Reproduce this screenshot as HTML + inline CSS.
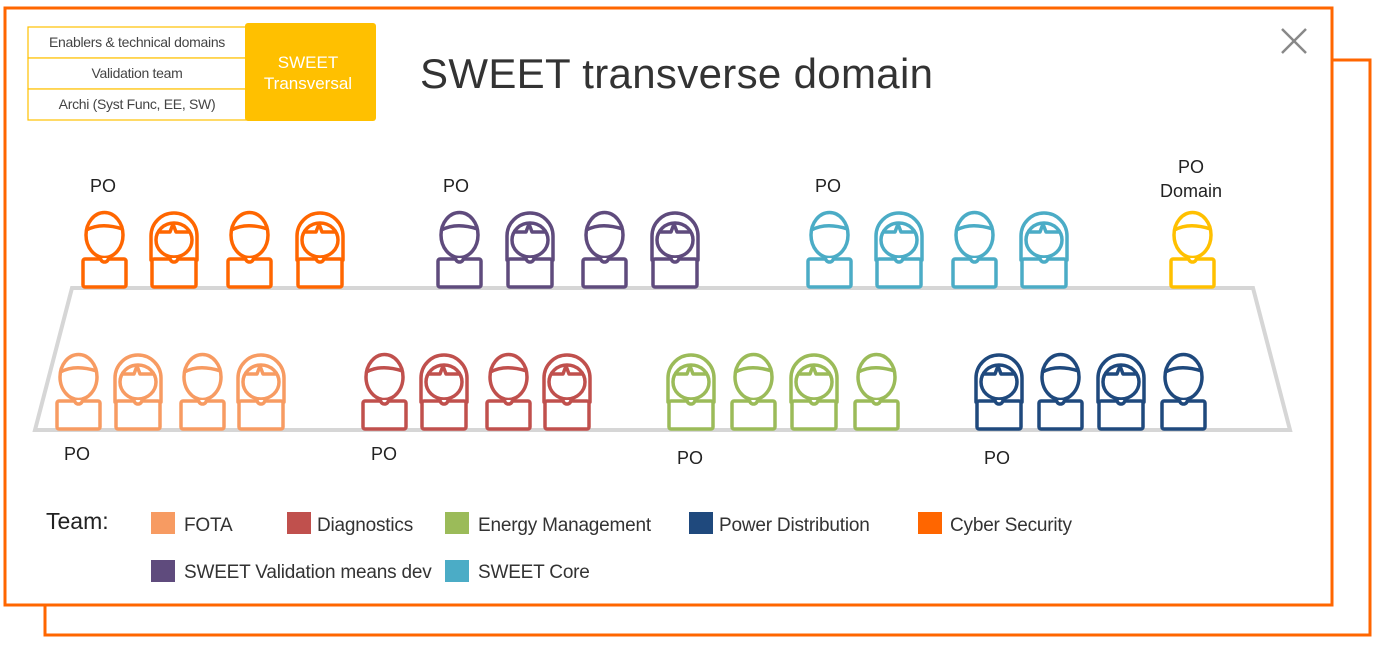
<!DOCTYPE html>
<html><head><style>
body{margin:0;background:#fff;width:1387px;height:645px;overflow:hidden;font-family:"Liberation Sans",sans-serif;}
</style></head><body>
<svg width="1387" height="645" xmlns="http://www.w3.org/2000/svg" font-family="Liberation Sans, sans-serif">
<defs>
<g id="m" fill="#fff" stroke-width="3.5" stroke-linejoin="round">
<rect x="2" y="49" width="43" height="28" rx="2"/>
<ellipse cx="23.5" cy="25" rx="18.5" ry="22.5"/>
<path d="M5.5,20 Q20,12 41.5,19" fill="none"/>
<path d="M19.5,48 a4,4 0 0 0 8,0" />
</g>
<g id="f" fill="#fff" stroke-width="3.5" stroke-linejoin="round">
<path d="M2,50 V26 A23,23 0 0 1 48,26 V50 Z"/>
<rect x="3" y="49" width="44" height="28" rx="2"/>
<ellipse cx="25" cy="30" rx="18" ry="17"/>
<path d="M8,22 H21 L24,14 L27,22 H42" fill="none"/>
<path d="M21,48 a4,4 0 0 0 8,0"/>
</g>
</defs>
<rect x="45" y="60" width="1325" height="575" fill="#fff" stroke="#ff6600" stroke-width="3"/>
<rect x="5" y="8" width="1327" height="597" fill="#fff" stroke="#ff6600" stroke-width="3"/>
<g stroke="#888" stroke-width="2.5"><line x1="1282" y1="29" x2="1306" y2="53"/><line x1="1306" y1="29" x2="1282" y2="53"/></g>
<g stroke="#ffc000" stroke-width="1.2" fill="#fff">
<rect x="28" y="27" width="220" height="31"/><rect x="28" y="58" width="220" height="31"/><rect x="28" y="89" width="220" height="31"/>
</g>
<g font-size="14" fill="#444" text-anchor="middle" letter-spacing="-0.3">
<text x="137" y="47">Enablers &amp; technical domains</text>
<text x="137" y="78">Validation team</text>
<text x="137" y="109">Archi (Syst Func, EE, SW)</text>
</g>
<rect x="245" y="23" width="131" height="98" rx="3" fill="#ffc000"/>
<text x="308" y="68" font-size="17" fill="#fff" text-anchor="middle">SWEET</text>
<text x="308" y="89" font-size="17" fill="#fff" text-anchor="middle">Transversal</text>
<text x="420" y="88" font-size="42" fill="#333" textLength="513">SWEET transverse domain</text>
<path d="M72,288 H1253 L1290,430 H35 Z" fill="none" stroke="#d6d6d6" stroke-width="4"/>
<g stroke="#ff6600"><use href="#m" x="81" y="210"/><use href="#f" x="149" y="210"/><use href="#m" x="226" y="210"/><use href="#f" x="295" y="210"/></g>
<g stroke="#5f4b7d"><use href="#m" x="436" y="210"/><use href="#f" x="505" y="210"/><use href="#m" x="581" y="210"/><use href="#f" x="650" y="210"/></g>
<g stroke="#4bacc6"><use href="#m" x="806" y="210"/><use href="#f" x="874" y="210"/><use href="#m" x="951" y="210"/><use href="#f" x="1019" y="210"/></g>
<g stroke="#ffc000"><use href="#m" x="1169" y="210"/></g>
<g stroke="#f79b62"><use href="#m" x="55" y="352"/><use href="#f" x="113" y="352"/><use href="#m" x="179" y="352"/><use href="#f" x="236" y="352"/></g>
<g stroke="#c0504d"><use href="#m" x="361" y="352"/><use href="#f" x="419" y="352"/><use href="#m" x="485" y="352"/><use href="#f" x="542" y="352"/></g>
<g stroke="#9bbb59"><use href="#f" x="666" y="352"/><use href="#m" x="730" y="352"/><use href="#f" x="789" y="352"/><use href="#m" x="853" y="352"/></g>
<g stroke="#1f497d"><use href="#f" x="974" y="352"/><use href="#m" x="1037" y="352"/><use href="#f" x="1096" y="352"/><use href="#m" x="1160" y="352"/></g>
<g font-size="18" fill="#222" text-anchor="middle">
<text x="103" y="192">PO</text><text x="456" y="192">PO</text><text x="828" y="192">PO</text>
<text x="1191" y="173">PO</text><text x="1191" y="197">Domain</text>
<text x="77" y="460">PO</text><text x="384" y="460">PO</text><text x="690" y="464">PO</text><text x="997" y="464">PO</text>
</g>
<text x="46" y="529" font-size="23" fill="#222">Team:</text>
<g font-size="19" fill="#333" letter-spacing="-0.2">
<rect x="151" y="512" width="24" height="22" fill="#f79b62"/><text x="184" y="531">FOTA</text>
<rect x="287" y="512" width="24" height="22" fill="#c0504d"/><text x="317" y="531">Diagnostics</text>
<rect x="445" y="512" width="24" height="22" fill="#9bbb59"/><text x="478" y="531">Energy Management</text>
<rect x="689" y="512" width="24" height="22" fill="#1f497d"/><text x="719" y="531">Power Distribution</text>
<rect x="918" y="512" width="24" height="22" fill="#ff6600"/><text x="950" y="531">Cyber Security</text>
<rect x="151" y="560" width="24" height="22" fill="#5f4b7d"/><text x="184" y="578">SWEET Validation means dev</text>
<rect x="445" y="560" width="24" height="22" fill="#4bacc6"/><text x="478" y="578">SWEET Core</text>
</g>
</svg>
</body></html>
